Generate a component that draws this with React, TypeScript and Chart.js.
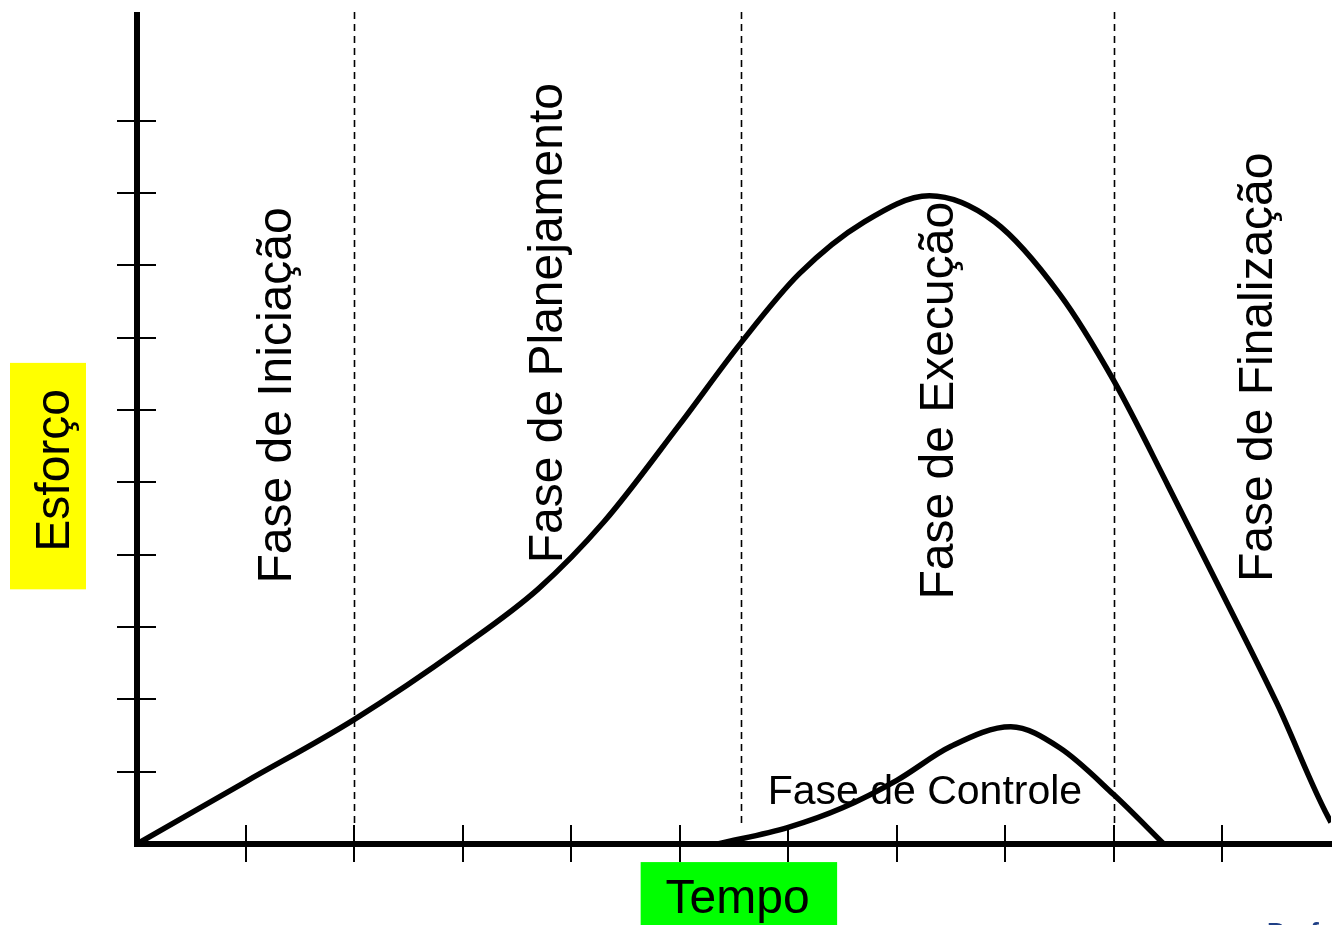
import React, { useEffect, useRef } from "react";
import { Chart, registerables } from "chart.js";

Chart.register(...registerables);

// Main effort curve (Esforço over Tempo)
const mainX = [0, 1, 2, 3, 3.7, 4.3, 5.0, 5.56, 6.1, 6.7, 7.3, 7.9, 8.5, 9.0, 9.5, 10.0, 10.5, 11.0, 11.15];
const mainY = [0, 0.86, 1.72, 2.73, 3.53, 4.45, 5.8, 6.92, 7.88, 8.6, 8.96, 8.6, 7.6, 6.4, 4.95, 3.46, 1.95, 0.3, 0];

// Control phase curve
const ctrlX = [5.35, 6.0, 6.5, 7.0, 7.5, 8.05, 8.5, 9.0, 9.46];
const ctrlY = [0, 0.23, 0.5, 0.88, 1.35, 1.62, 1.33, 0.68, 0];

// Axis ticks and phase boundaries
const xTicks = [1, 2, 3, 4, 5, 6, 7, 8, 9, 10];
const yTicks = [1, 2, 3, 4, 5, 6, 7, 8, 9, 10];
const phaseBounds = [2, 5.56, 9];

// Vertical phase labels: text, baseline x, start y
const phaseLabels = ["Fase de Iniciação", "Fase de Planejamento", "Fase de Execução", "Fase de Finalização"];
const phaseLabelX = [1.42, 3.92, 7.52, 10.46];
const phaseLabelY = [3.6, 3.88, 3.38, 3.62];

const controlLabel = "Fase de Controle";
const xTitle = "Tempo";
const yTitle = "Esforço";
const footer = "Prof. Dr.";

const FONT = "'Liberation Sans', Arial, sans-serif";

export default function App() {
  const ref = useRef<HTMLCanvasElement | null>(null);

  useEffect(() => {
    document.body.style.margin = "0";
    const canvas = ref.current;
    if (!canvas) return;

    const overlay = {
      id: "overlay",
      beforeDatasetsDraw(chart: any) {
        const { ctx, scales } = chart;
        const xs = scales.x;
        const ys = scales.y;
        const px = (v: number) => xs.getPixelForValue(v);
        const py = (v: number) => ys.getPixelForValue(v);
        ctx.save();
        ctx.fillStyle = "#ffff00";
        ctx.fillRect(px(-1.17), py(6.65), px(-0.47) - px(-1.17), py(3.52) - py(6.65));
        ctx.fillStyle = "#00ff00";
        ctx.fillRect(px(4.64), py(-0.25), px(6.45) - px(4.64), py(-1.3) - py(-0.25));
        ctx.strokeStyle = "#000";
        ctx.lineWidth = 1.6;
        ctx.setLineDash([7, 5]);
        phaseBounds.forEach((b) => {
          ctx.beginPath();
          ctx.moveTo(Math.round(px(b)) + 0.5, py(11.5));
          ctx.lineTo(Math.round(px(b)) + 0.5, py(0.25));
          ctx.stroke();
        });
        ctx.restore();
      },
      afterDatasetsDraw(chart: any) {
        const { ctx, scales } = chart;
        const xs = scales.x;
        const ys = scales.y;
        const px = (v: number) => xs.getPixelForValue(v);
        const py = (v: number) => ys.getPixelForValue(v);
        const ox = px(0);
        const oy = py(0);
        ctx.save();
        ctx.strokeStyle = "#000";
        ctx.fillStyle = "#000";
        ctx.lineWidth = 6;
        ctx.lineCap = "butt";
        ctx.beginPath();
        ctx.moveTo(ox, py(11.5));
        ctx.lineTo(ox, oy + 3);
        ctx.moveTo(ox - 3, oy);
        ctx.lineTo(px(11.2), oy);
        ctx.stroke();
        ctx.lineWidth = 2;
        xTicks.forEach((t) => {
          const x = Math.round(px(t));
          ctx.beginPath();
          ctx.moveTo(x, oy - 19);
          ctx.lineTo(x, oy + 18);
          ctx.stroke();
        });
        yTicks.forEach((t) => {
          const y = Math.round(py(t));
          ctx.beginPath();
          ctx.moveTo(ox - 20, y);
          ctx.lineTo(ox + 19, y);
          ctx.stroke();
        });
        ctx.font = `48px ${FONT}`;
        ctx.textBaseline = "alphabetic";
        ctx.textAlign = "left";
        phaseLabels.forEach((txt, i) => {
          ctx.save();
          ctx.translate(px(phaseLabelX[i]), py(phaseLabelY[i]));
          ctx.rotate(-Math.PI / 2);
          ctx.fillText(txt, 0, 0);
          ctx.restore();
        });
        ctx.save();
        ctx.translate(px(-0.63), py(4.04));
        ctx.rotate(-Math.PI / 2);
        ctx.fillText(yTitle, 0, 0);
        ctx.restore();
        ctx.fillText(xTitle, px(4.87), py(-0.95));
        ctx.font = `41px ${FONT}`;
        ctx.fillText(controlLabel, px(5.81), py(0.55));
        ctx.fillStyle = "#1f3f86";
        ctx.font = `bold 26px ${FONT}`;
        ctx.textBaseline = "top";
        ctx.fillText(footer, px(10.41), py(-1.06));
        ctx.restore();
      },
    };

    const chart = new Chart(canvas, {
      type: "line",
      data: {
        datasets: [
          {
            data: mainX.map((x, i) => ({ x, y: mainY[i] })),
            borderColor: "#000",
            borderWidth: 5.5,
            pointRadius: 0,
            cubicInterpolationMode: "monotone",
            fill: false,
          },
          {
            data: ctrlX.map((x, i) => ({ x, y: ctrlY[i] })),
            borderColor: "#000",
            borderWidth: 5.5,
            pointRadius: 0,
            cubicInterpolationMode: "monotone",
            fill: false,
          },
        ],
      },
      options: {
        animation: false,
        responsive: false,
        maintainAspectRatio: false,
        layout: { padding: { left: 137, right: 1, top: 12, bottom: 81 } },
        plugins: { legend: { display: false }, tooltip: { enabled: false }, title: { display: false } },
        scales: {
          x: { type: "linear", min: 0, max: 11, display: false },
          y: { type: "linear", min: 0, max: 11.5, display: false },
        },
      },
      plugins: [overlay],
    } as any);

    return () => chart.destroy();
  }, []);

  return (
    <div style={{ width: 1332, height: 925, overflow: "hidden", background: "#fff" }}>
      <canvas ref={ref} width={1332} height={925} style={{ display: "block" }} />
    </div>
  );
}
